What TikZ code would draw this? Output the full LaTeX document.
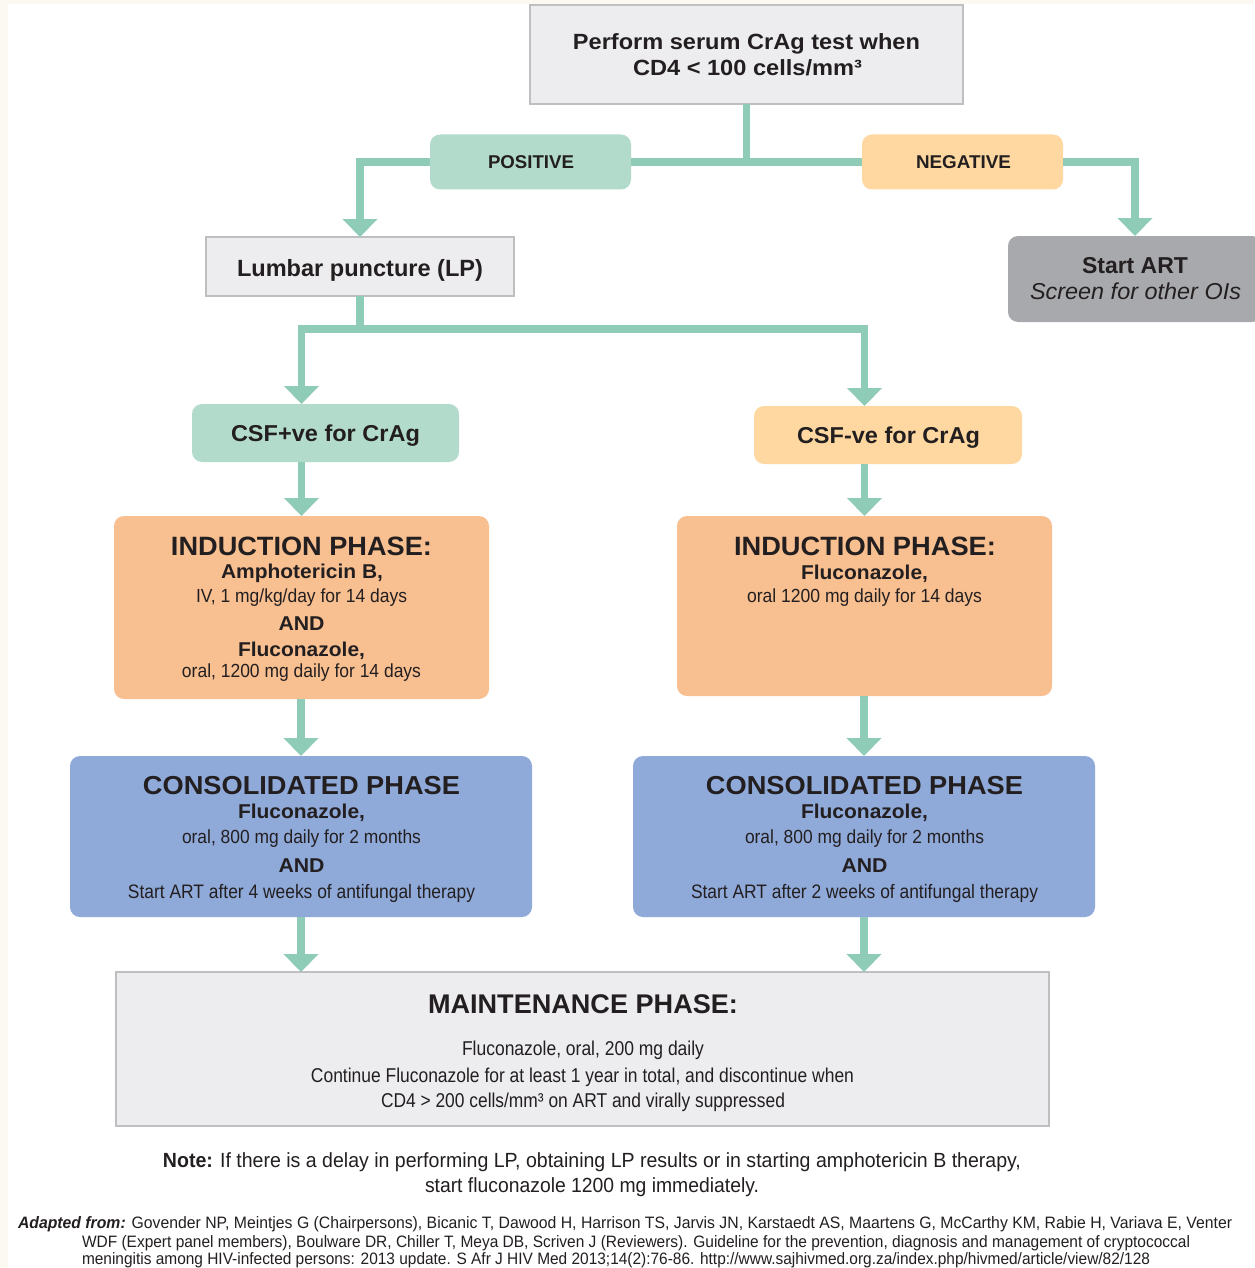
\documentclass[tikz,border=0pt]{standalone}
\usepackage{fontspec}
\setmainfont{Liberation Sans}
\usepackage{graphicx}
\usetikzlibrary{arrows.meta}

\definecolor{ink}{HTML}{231F20}
\definecolor{connc}{RGB}{143,204,183}
\definecolor{posfill}{RGB}{178,219,203}
\definecolor{negfill}{RGB}{254,216,160}
\definecolor{indfill}{RGB}{248,191,144}
\definecolor{consfill}{RGB}{143,169,217}
\definecolor{graybg}{HTML}{EDEDEF}
\definecolor{grayline}{HTML}{BFBFC1}
\definecolor{artfill}{RGB}{168,169,172}
\definecolor{cream}{HTML}{FCF8F2}

\newcommand{\fitw}[2]{\resizebox{#1}{\height}{#2}}
\newcommand{\fsz}[1]{\fontsize{#1}{#1}\selectfont}

\tikzset{
  txt/.style={anchor=base, inner sep=0pt, outer sep=0pt, text=ink},
  txtw/.style={anchor=base west, inner sep=0pt, outer sep=0pt, text=ink},
  shapebox/.style={inner sep=0pt, outer sep=0pt},
  graybox/.style={shapebox, draw=grayline, line width=1.3pt, fill=graybg},
  roundbox/.style={shapebox, rounded corners=10pt, draw=none},
  link/.style={draw=connc, line width=7.5pt},
  arr/.style={link, -{Triangle[width=34pt,length=18pt]}},
}

\begin{document}
\begin{tikzpicture}[x=1pt,y=-1pt]
\useasboundingbox (0,0) rectangle (1254,1268);
\fill[white] (0,0) rectangle (1254,1268);
\fill[cream] (0,0) rectangle (8,1268);
\fill[cream] (0,0) rectangle (1254,4);

% boxes
\node[graybox, minimum width=433pt, minimum height=99pt] (top) at (746.5,54.5) {};
\node[roundbox, fill=posfill, minimum width=201pt, minimum height=55pt] (pos) at (530.5,162) {};
\node[roundbox, fill=negfill, minimum width=201pt, minimum height=55pt] (neg) at (962.5,162) {};
\node[roundbox, fill=artfill, minimum width=254pt, minimum height=86pt] (art) at (1135,279) {};
\node[graybox, minimum width=308pt, minimum height=59pt] (lp) at (360,266.5) {};
\node[roundbox, fill=posfill, minimum width=267pt, minimum height=58pt] (csfp) at (325.5,433) {};
\node[roundbox, fill=negfill, minimum width=268pt, minimum height=58pt] (csfn) at (888,435) {};
\node[roundbox, fill=indfill, minimum width=375pt, minimum height=183pt] (ind1) at (301.5,607.5) {};
\node[roundbox, fill=indfill, minimum width=375pt, minimum height=180pt] (ind2) at (864.5,606) {};
\node[roundbox, fill=consfill, minimum width=462pt, minimum height=161pt] (cons1) at (301,836.5) {};
\node[roundbox, fill=consfill, minimum width=462pt, minimum height=161pt] (cons2) at (864,836.5) {};
\node[graybox, minimum width=933pt, minimum height=154pt] (maint) at (582.5,1049) {};

% connectors
\draw[link] (top.south) -- (top.south |- pos.east);
\draw[link] (pos.east) -- (neg.west);
\draw[arr] (pos.west) -| (lp.north);
\draw[arr] (neg.east) -| (art.north);
\draw[link] (lp.south) -- ++(0,33) coordinate (lpj);
\draw[arr] (lpj) -| (ind1.north |- csfp.north);
\draw[arr] (lpj) -| (ind2.north |- csfn.north);
\draw[arr] (ind1.north |- csfp.south) -- (ind1.north);
\draw[arr] (ind2.north |- csfn.south) -- (ind2.north);
\draw[arr] (cons1.north |- ind1.south) -- (cons1.north);
\draw[arr] (cons2.north |- ind2.south) -- (cons2.north);
\draw[arr] (cons1.south) -- (cons1.south |- maint.north);
\draw[arr] (cons2.south) -- (cons2.south |- maint.north);

% texts
\node[txt] (ttop1) at (746.5,50) {\fsz{22}\bfseries\fitw{347pt}{Perform serum CrAg test when}};
\node[txt] (ttop2) at (747.5,76) {\fsz{22}\bfseries\fitw{229pt}{CD4 < 100 cells/mm³}};
\node[txt] (tpos) at (531,168.5) {\fsz{18.5}\bfseries\fitw{86pt}{POSITIVE}};
\node[txt] (tneg) at (963.5,168.5) {\fsz{18.5}\bfseries\fitw{95pt}{NEGATIVE}};
\node[txt] (tlp) at (360,276.5) {\fsz{23.5}\bfseries\fitw{246pt}{Lumbar puncture (LP)}};
\node[txt] (tart1) at (1135,273) {\fsz{23}\bfseries\fitw{106pt}{Start ART}};
\node[txt] (tart2) at (1135.5,299) {\fsz{23}\itshape\fitw{211pt}{Screen for other OIs}};
\node[txt] (tcsfp) at (325.5,441.5) {\fsz{23}\bfseries\fitw{189pt}{CSF+ve for CrAg}};
\node[txt] (tcsfn) at (888.5,443.5) {\fsz{23}\bfseries\fitw{183pt}{CSF-ve for CrAg}};

\node[txt] (ti1a) at (301.5,555) {\fsz{26.5}\bfseries\fitw{261pt}{INDUCTION PHASE:}};
\node[txt] (ti1b) at (302,578) {\fsz{20}\bfseries\fitw{162pt}{Amphotericin B,}};
\node[txt] (ti1c) at (301.5,602) {\fsz{19}\fitw{211pt}{IV, 1 mg/kg/day for 14 days}};
\node[txt] (ti1d) at (301.5,630) {\fsz{20}\bfseries\fitw{46pt}{AND}};
\node[txt] (ti1e) at (301.5,656) {\fsz{20}\bfseries\fitw{127pt}{Fluconazole,}};
\node[txt] (ti1f) at (301.5,677) {\fsz{19}\fitw{239pt}{oral, 1200 mg daily for 14 days}};

\node[txt] (ti2a) at (865,555) {\fsz{26.5}\bfseries\fitw{262pt}{INDUCTION PHASE:}};
\node[txt] (ti2b) at (864.5,579) {\fsz{20}\bfseries\fitw{127pt}{Fluconazole,}};
\node[txt] (ti2c) at (864.5,602) {\fsz{19}\fitw{235pt}{oral 1200 mg daily for 14 days}};

\node[txt] (tc1a) at (301.5,794) {\fsz{26}\bfseries\fitw{317pt}{CONSOLIDATED PHASE}};
\node[txt] (tc1b) at (301.5,818) {\fsz{20}\bfseries\fitw{127pt}{Fluconazole,}};
\node[txt] (tc1c) at (301.5,843) {\fsz{19}\fitw{239pt}{oral, 800 mg daily for 2 months}};
\node[txt] (tc1d) at (301.5,872) {\fsz{20}\bfseries\fitw{46pt}{AND}};
\node[txt] (tc1e) at (301.5,898) {\fsz{19.5}\fitw{347pt}{Start ART after 4 weeks of antifungal therapy}};

\node[txt] (tc2a) at (864.5,794) {\fsz{26}\bfseries\fitw{317pt}{CONSOLIDATED PHASE}};
\node[txt] (tc2b) at (864.5,818) {\fsz{20}\bfseries\fitw{127pt}{Fluconazole,}};
\node[txt] (tc2c) at (864.5,843) {\fsz{19}\fitw{239pt}{oral, 800 mg daily for 2 months}};
\node[txt] (tc2d) at (864.5,872) {\fsz{20}\bfseries\fitw{46pt}{AND}};
\node[txt] (tc2e) at (864.5,898) {\fsz{19.5}\fitw{347pt}{Start ART after 2 weeks of antifungal therapy}};

\node[txt] (tma) at (583,1013) {\fsz{27}\bfseries\fitw{310pt}{MAINTENANCE PHASE:}};
\node[txt] (tmb) at (583,1055) {\fsz{20}\fitw{242pt}{Fluconazole, oral, 200 mg daily}};
\node[txt] (tmc) at (582.5,1082) {\fsz{20}\fitw{543pt}{Continue Fluconazole for at least 1 year in total, and discontinue when}};
\node[txt] (tmd) at (583,1107) {\fsz{20}\fitw{404pt}{CD4 > 200 cells/mm³ on ART and virally suppressed}};

\node[txt] (tn1) at (592,1167) {\fsz{20.5}\fitw{858pt}{\textbf{Note:} If there is a delay in performing LP, obtaining LP results or in starting amphotericin B therapy,}};
\node[txt] (tn2) at (592,1192) {\fsz{20.5}\fitw{334pt}{start fluconazole 1200 mg immediately.}};

\node[txtw] (ta1) at (18,1228) {\fsz{16.5}\fitw{1214pt}{\textbf{\itshape Adapted from:} Govender NP, Meintjes G (Chairpersons), Bicanic T, Dawood H, Harrison TS, Jarvis JN, Karstaedt AS, Maartens G, McCarthy KM, Rabie H, Variava E, Venter}};
\node[txtw] (ta2) at (82,1247) {\fsz{16.5}\fitw{1108pt}{WDF (Expert panel members), Boulware DR, Chiller T, Meya DB, Scriven J (Reviewers). Guideline for the prevention, diagnosis and management of cryptococcal}};
\node[txtw] (ta3) at (82,1264) {\fsz{16.5}\fitw{1068pt}{meningitis among HIV-infected persons: 2013 update. S Afr J HIV Med 2013;14(2):76-86. http://www.sajhivmed.org.za/index.php/hivmed/article/view/82/128}};
\end{tikzpicture}
\end{document}
